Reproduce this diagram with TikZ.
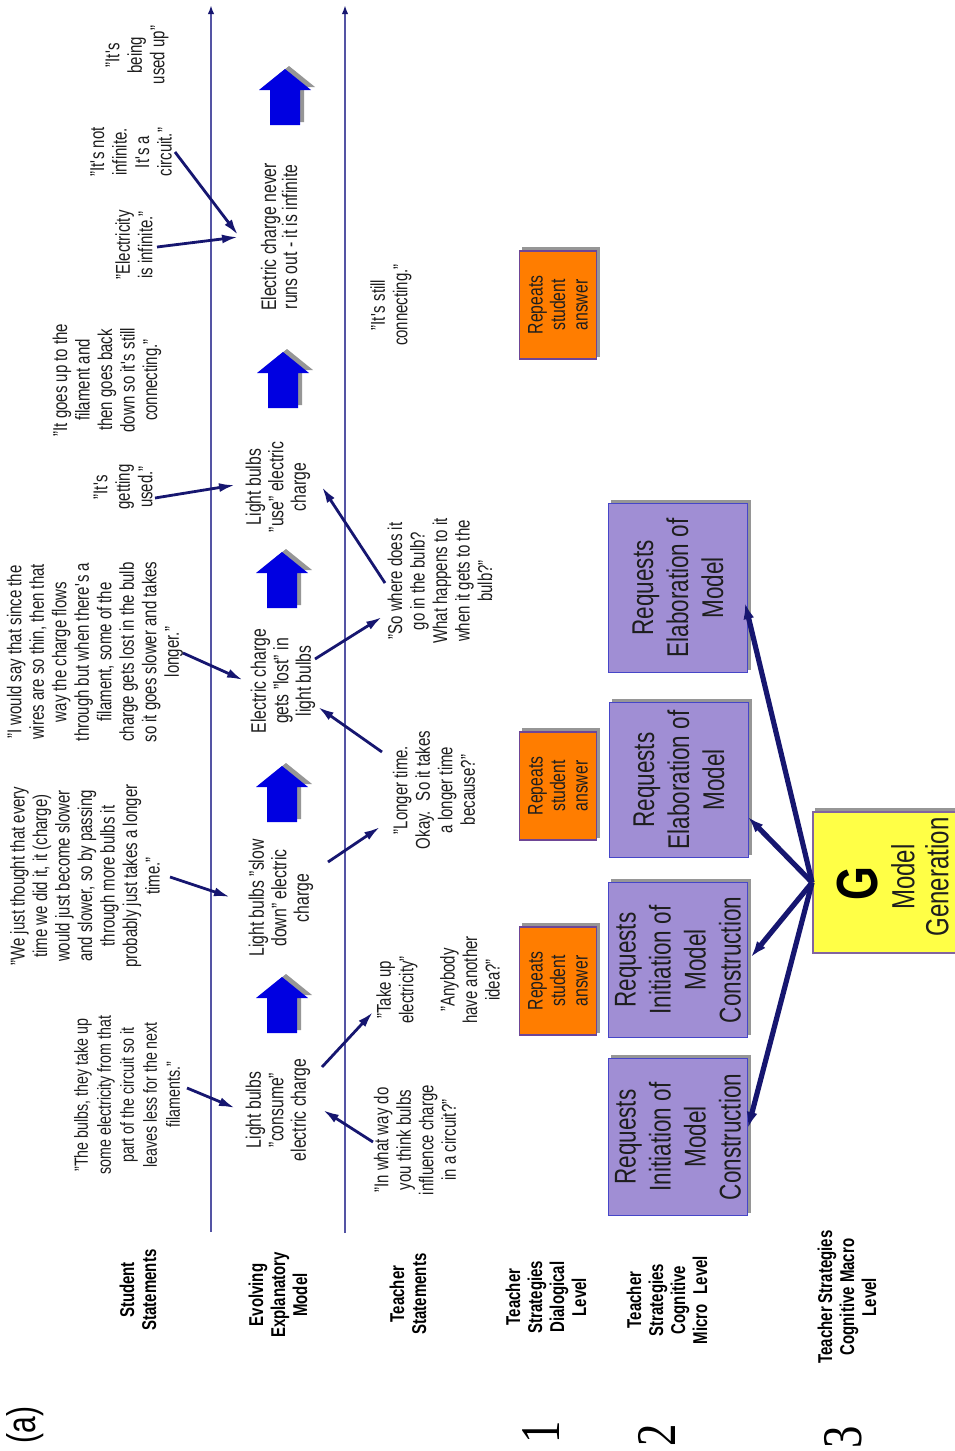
\documentclass[tikz,border=0pt]{standalone}
\usepackage{fontspec}
\setmainfont[FakeStretch=0.75]{Liberation Sans}
\newfontfamily\numfont[FakeStretch=0.8]{Liberation Serif}
\usetikzlibrary{arrows.meta,calc,backgrounds}
\newcommand{\apo}{\textquotesingle}
\definecolor{tlinecol}{RGB}{84,84,164}
\definecolor{conncol}{RGB}{22,22,112}
\definecolor{arrowblue}{RGB}{0,0,225}
\definecolor{shadowcol}{RGB}{150,150,150}
\definecolor{pfill}{RGB}{160,142,212}
\definecolor{pborder}{RGB}{70,70,200}
\definecolor{ofill}{RGB}{255,125,0}
\definecolor{oborder}{RGB}{110,70,150}
\definecolor{yfill}{RGB}{255,255,70}
\definecolor{yborder}{RGB}{130,100,160}
\definecolor{textcol}{RGB}{30,30,30}
\tikzset{
  blockarrow/.pic={
    \fill[shadowcol] (-11,-3) -- (19,-3) -- (19,-38) -- (30,-38) -- (4,-59) -- (-22,-38) -- (-11,-38) -- cycle;
    \fill[arrowblue] (-15,0) -- (15,0) -- (15,-35) -- (26,-35) -- (0,-56) -- (-26,-35) -- (-15,-35) -- cycle;
  }
}
\begin{document}
\begin{tikzpicture}[x=0.5pt,y=-0.5pt,
  txt/.style={rotate=90, align=center, inner sep=1pt, text=textcol, font=\fontsize{10}{11.25}\selectfont},
  mtxt/.style={txt, font=\fontsize{10.5}{11.25}\selectfont},
  lbl/.style={rotate=90, align=center, inner sep=1pt, text=black, font=\bfseries\fontsize{10}{11}\selectfont},
  numstyle/.style={rotate=90, inner sep=0pt, font=\numfont\fontsize{28}{30}\selectfont},
  tline/.style={draw=tlinecol, line width=1pt, -{Latex[length=4.5pt,width=3.2pt,color=conncol]}},
  conn/.style={draw=conncol, line width=1.4pt, -{Latex[length=8pt,width=4.5pt]}},
  bigconn/.style={draw=conncol, line width=2.6pt, -{Latex[length=8pt,width=5.5pt]}},
  pbox/.style={rotate=90, draw=pborder, fill=pfill, line width=0.9pt, align=center, inner sep=2pt, text=textcol, font=\fontsize{15}{17.5}\selectfont, minimum height=69.5pt},
  obox/.style={rotate=90, draw=oborder, fill=ofill, line width=0.9pt, align=center, inner sep=2pt, text=textcol, font=\fontsize{10.5}{11.25}\selectfont, minimum width=54pt, minimum height=38.5pt}
]
\useasboundingbox (0,0) rectangle (954,1451);

% timelines
\coordinate (L1top) at (211,5);
\coordinate (L1bot) at (211,1232);
\coordinate (L2top) at (345,5);
\coordinate (L2bot) at (345,1233);
\draw[tline] (L1bot) -- (L1top);
\draw[tline] (L2bot) -- (L2top);

% left labels
\node[rotate=90, inner sep=0pt, font=\fontsize{20}{22}\selectfont] (La) at (25,1425) {(a)};
\node[lbl] (Lss) at (138,1290) {Student\\Statements};
\node[lbl] (Lem) at (278,1295) {Evolving\\Explanatory\\Model};
\node[lbl] (Lts) at (408,1294) {Teacher\\Statements};
\node[lbl] (Ldl) at (546,1297) {Teacher\\Strategies\\Dialogical\\Level};
\node[lbl] (Lmi) at (667,1300) {Teacher\\Strategies\\Cognitive\\Micro\enspace Level};
\node[lbl] (Lma) at (847,1297) {Teacher Strategies\\Cognitive Macro\\Level};
\node[numstyle] (N1) at (541,1432) {1};
\node[numstyle] (N2) at (657,1435) {2};
\node[numstyle] (N3) at (843,1437) {3};

% student statements
\node[txt, font=\fontsize{9.5}{11.5}\selectfont] (S1) at (127,1095) {"The bulbs, they take up\\some electricity from that\\part of the circuit so it\\leaves less for the next\\filaments."};
\node[txt] (S2) at (85,876) {"We just thought that every\\time we did it, it (charge)\\would just become slower\\and slower, so by passing\\through more bulbs it\\probably just takes a longer\\time."};
\node[txt] (S3) at (95,652) {"I would say that since the\\wires are so thin, then that\\way the charge flows\\through but when there\apo s a\\filament, some of the\\charge gets lost in the bulb\\so it goes slower and takes\\longer."};
\node[txt] (S4) at (123,487) {"It\apo s\\getting\\used."};
\node[txt] (S5) at (107,380) {"It goes up to the\\filament and\\then goes back\\down so it\apo s still\\connecting."};
\node[txt] (S6) at (134,245) {"Electricity\\is infinite."};
\node[txt] (S7) at (131,152) {"It\apo s not\\infinite.\\It\apo s a\\circuit."};
\node[txt] (S8) at (137,55) {"It\apo s\\being\\used up"};

% evolving model
\node[mtxt] (M1) at (278,1110) {Light bulbs\\"consume"\\electric charge};
\node[mtxt] (M2) at (281,898) {Light bulbs "slow\\down" electric\\charge};
\node[mtxt] (M3) at (283,681) {Electric charge\\gets "lost" in\\light bulbs};
\node[mtxt] (M4) at (278,487) {Light bulbs\\"use" electric\\charge};
\node[txt, font=\fontsize{10.5}{10.5}\selectfont] (M5) at (279,237) {Electric charge never\\runs out - it is infinite};

\pic at (282,1033) {blockarrow};
\pic at (282,822) {blockarrow};
\pic at (282,608) {blockarrow};
\pic at (283,408) {blockarrow};
\pic at (285,125) {blockarrow};

% teacher statements
\node[txt] (T1) at (415,1140) {"In what way do\\you think bulbs\\influence charge\\in a circuit?"};
\node[txt] (T2) at (397,990) {"Take up\\electricity"};
\node[txt] (T3) at (470,980) {"Anybody\\have another\\idea?"};
\node[txt] (T4) at (434,790) {"Longer time.\\Okay.\enspace So it takes\\a longer time\\because?"};
\node[txt] (T5) at (440,581) {"So where does it\\go in the bulb?\\What happens to it\\when it gets to the\\bulb?"};
\node[txt] (T6) at (391,305) {"It\apo s still\\connecting."};

% dialogical level
\node[obox] (O1) at (558,981) {Repeats\\student\\answer};
\node[obox] (O2) at (558,786) {Repeats\\student\\answer};
\node[obox] (O3) at (558,305) {Repeats\\student\\answer};

% cognitive micro level
\node[pbox, minimum width=78.5pt] (P1) at (678,1137) {Requests\\Initiation of\\Model\\Construction};
\node[pbox, minimum width=77.5pt] (P2) at (678,960) {Requests\\Initiation of\\Model\\Construction};
\node[pbox, minimum width=77.5pt] (P3) at (679,780) {Requests\\Elaboration of\\Model};
\node[pbox, minimum width=84.5pt] (P4) at (678,588) {Requests\\Elaboration of\\Model};

% macro level
\node[draw=yborder, fill=yfill, line width=0.9pt, minimum width=90pt, minimum height=70.5pt, inner sep=0pt] (Y) at (903,882.5) {};
\node[rotate=90, inner sep=0pt, font=\bfseries\fontsize{29}{30}\selectfont] (G) at (858,884) {G};
\node[rotate=90, align=center, inner sep=0pt, text=textcol, font=\fontsize{16}{17}\selectfont] (MG) at (920,877) {Model\\Generation};

% shadows and background
\begin{scope}[on background layer]
  \fill[white] (0,0) rectangle (954,1451);
  \foreach \n in {P1,P2,P3,P4,O1,O2,O3,Y}
    \fill[shadowcol] ($(\n.south west)+(3,-3)$) rectangle ($(\n.north east)+(3,-3)$);
\end{scope}

% student -> model connectors
\draw[conn] ($(S1)+(60,-7)$) -- ($(M1)+(-43,-2)$);
\draw[conn] ($(S2)+(85,1)$) -- ($(M2)+(-51,-1)$);
\draw[conn] ($(S3)+(88,1)$) -- ($(M3)+(-40,-1)$);
\draw[conn] ($(S4)+(32,11)$) -- ($(M4)+(-43,-2)$);
\draw[conn] ($(S6)+(23,2)$) -- ($(M5)+(-41,0)$);
\draw[conn] ($(S7)+(44,0)$) -- ($(M5)+(-41,-2)$);

% teacher <-> model connectors
\draw[conn] ($(T1)+(-42,2)$) -- ($(M1)+(45,0)$);
\draw[conn] ($(M1)+(44,-43)$) -- ($(T2)+(-24,22)$);
\draw[conn] ($(M2)+(47,-36)$) -- ($(T4)+(-54,37)$);
\draw[conn] ($(T4)+(-52,-38)$) -- ($(M3)+(35,26)$);
\draw[conn] ($(M3)+(32,-22)$) -- ($(T5)+(-58,36)$);
\draw[conn] ($(T5)+(-55,2)$) -- ($(M4)+(44,0)$);

% macro -> micro connectors
\draw[bigconn] (Y.west) -- ($(P1)+(70,-9)$);
\draw[bigconn] (Y.west) -- ($(P2)+(73,-3)$);
\draw[bigconn] (Y.west) -- ($(P3)+(69,37)$);
\draw[bigconn] (Y.west) -- ($(P4)+(67,15)$);
\end{tikzpicture}
\end{document}
